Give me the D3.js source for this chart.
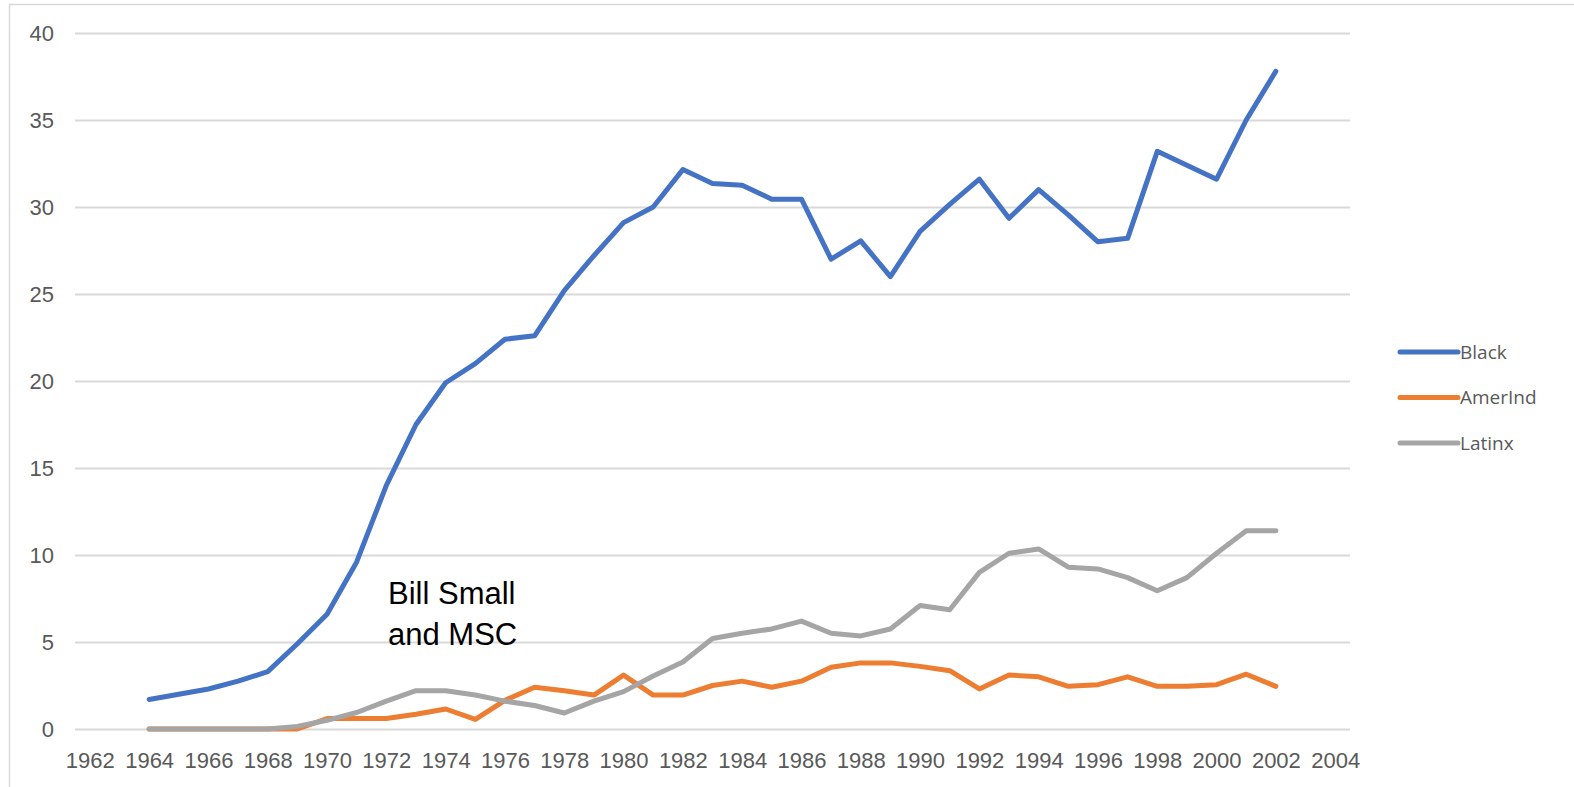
<!DOCTYPE html>
<html>
<head>
<meta charset="utf-8">
<script src="https://cdn.jsdelivr.net/npm/d3@7"></script>
<style>
  body { margin: 0; background: #fff; }
  .tick text { fill: #595959; font-family: "Liberation Sans", Arial, sans-serif; font-size: 22px; }
  .legendText { fill: #595959; font-family: "Open Sans", "Liberation Sans", sans-serif; font-size: 19px; }
  .note { fill: #000; font-family: "Liberation Sans", Arial, sans-serif; font-size: 31px; }
</style>
</head>
<body>
<div id="chart"></div>
<script>
// axis categories (every year shown on the category axis)
var axisYears = d3.range(1962, 2005);
var xTickLabels = d3.range(1962, 2005, 2);
var yTickLabels = [0, 5, 10, 15, 20, 25, 30, 35, 40];

// data years
var years = d3.range(1964, 2003);

var black = [1.7, 2.0, 2.3, 2.75, 3.3, 4.9, 6.6, 9.6, 14.0, 17.5,
  19.9, 21.0, 22.4, 22.6, 25.2, 27.2, 29.1, 30.0, 32.15, 31.35,
  31.25, 30.45, 30.45, 27.0, 28.05, 26.0, 28.6, 30.15, 31.6, 29.35,
  31.0, 29.55, 28.0, 28.2, 33.2, 32.4, 31.6, 35.0, 37.8];

var amerInd = [0, 0, 0, 0, 0, 0, 0.6, 0.6, 0.6, 0.85,
  1.15, 0.55, 1.65, 2.4, 2.2, 1.95, 3.1, 1.95, 1.95, 2.5,
  2.75, 2.4, 2.75, 3.55, 3.8, 3.8, 3.6, 3.35, 2.3, 3.1,
  3.0, 2.45, 2.55, 3.0, 2.45, 2.45, 2.55, 3.15, 2.45];

var latinx = [0, 0, 0, 0, 0, 0.15, 0.5, 0.95, 1.6, 2.2,
  2.2, 1.95, 1.6, 1.35, 0.92, 1.6, 2.15, 3.05, 3.85, 5.2,
  5.5, 5.75, 6.2, 5.5, 5.35, 5.75, 7.1, 6.85, 9.0, 10.1,
  10.35, 9.3, 9.2, 8.7, 7.95, 8.7, 10.1, 11.4, 11.4];

var seriesNames = ["Black", "AmerInd", "Latinx"];
var seriesColors = ["#4472C4", "#ED7D31", "#A5A5A5"];

var svgWidth = 1574;
var svgHeight = 787;

var plot = { left: 75, right: 1350, top: 33, bottom: 729 };

var svg = d3.select("#chart")
  .append("svg")
  .attr("width", svgWidth)
  .attr("height", svgHeight);

// chart area border
svg.append("rect")
  .attr("x", 9.5)
  .attr("y", 4.5)
  .attr("width", 1700)
  .attr("height", 900)
  .attr("fill", "none")
  .attr("stroke", "#d9d9d9")
  .attr("stroke-width", 1.5);

var xScale = d3.scalePoint()
  .domain(axisYears)
  .range([plot.left, plot.right])
  .padding(0.5);

var yScale = d3.scaleLinear()
  .domain([0, 40])
  .range([plot.bottom, plot.top]);

// y axis with gridlines
var leftAxis = d3.axisLeft(yScale)
  .tickValues(yTickLabels)
  .tickSize(-(plot.right - plot.left))
  .tickPadding(21);

var yAxisG = svg.append("g")
  .attr("transform", `translate(${plot.left}, 0)`)
  .call(leftAxis);
yAxisG.select(".domain").remove();
yAxisG.selectAll(".tick line")
  .attr("stroke", "#d9d9d9")
  .attr("stroke-width", 2);

// x axis labels
var bottomAxis = d3.axisBottom(xScale)
  .tickValues(xTickLabels)
  .tickSize(0)
  .tickPadding(23);

var xAxisG = svg.append("g")
  .attr("transform", `translate(0, ${plot.bottom})`)
  .call(bottomAxis);
xAxisG.select(".domain").remove();

// lines
var line = d3.line()
  .x((d, i) => xScale(years[i]))
  .y(d => yScale(d));

var allSeries = [black, amerInd, latinx];

svg.selectAll(".series")
  .data(allSeries)
  .enter()
  .append("path")
  .attr("class", "series")
  .attr("d", d => line(d))
  .attr("fill", "none")
  .attr("stroke", (d, i) => seriesColors[i])
  .attr("stroke-width", 5)
  .attr("stroke-linejoin", "round")
  .attr("stroke-linecap", "round");

// legend
var legend = svg.selectAll(".legendItem")
  .data(seriesNames)
  .enter()
  .append("g")
  .attr("class", "legendItem")
  .attr("transform", (d, i) => `translate(1400, ${352 + i * 45.5})`);

legend.append("line")
  .attr("x1", 0)
  .attr("x2", 58)
  .attr("stroke", (d, i) => seriesColors[i])
  .attr("stroke-width", 5)
  .attr("stroke-linecap", "round");

legend.append("text")
  .attr("class", "legendText")
  .attr("x", 60)
  .attr("dy", "0.35em")
  .text(d => d);

// annotation
var note = svg.append("text")
  .attr("class", "note")
  .attr("x", 388)
  .attr("y", 604);
note.append("tspan").attr("x", 388).text("Bill Small");
note.append("tspan").attr("x", 388).attr("dy", 41).text("and MSC");
</script>
</body>
</html>
